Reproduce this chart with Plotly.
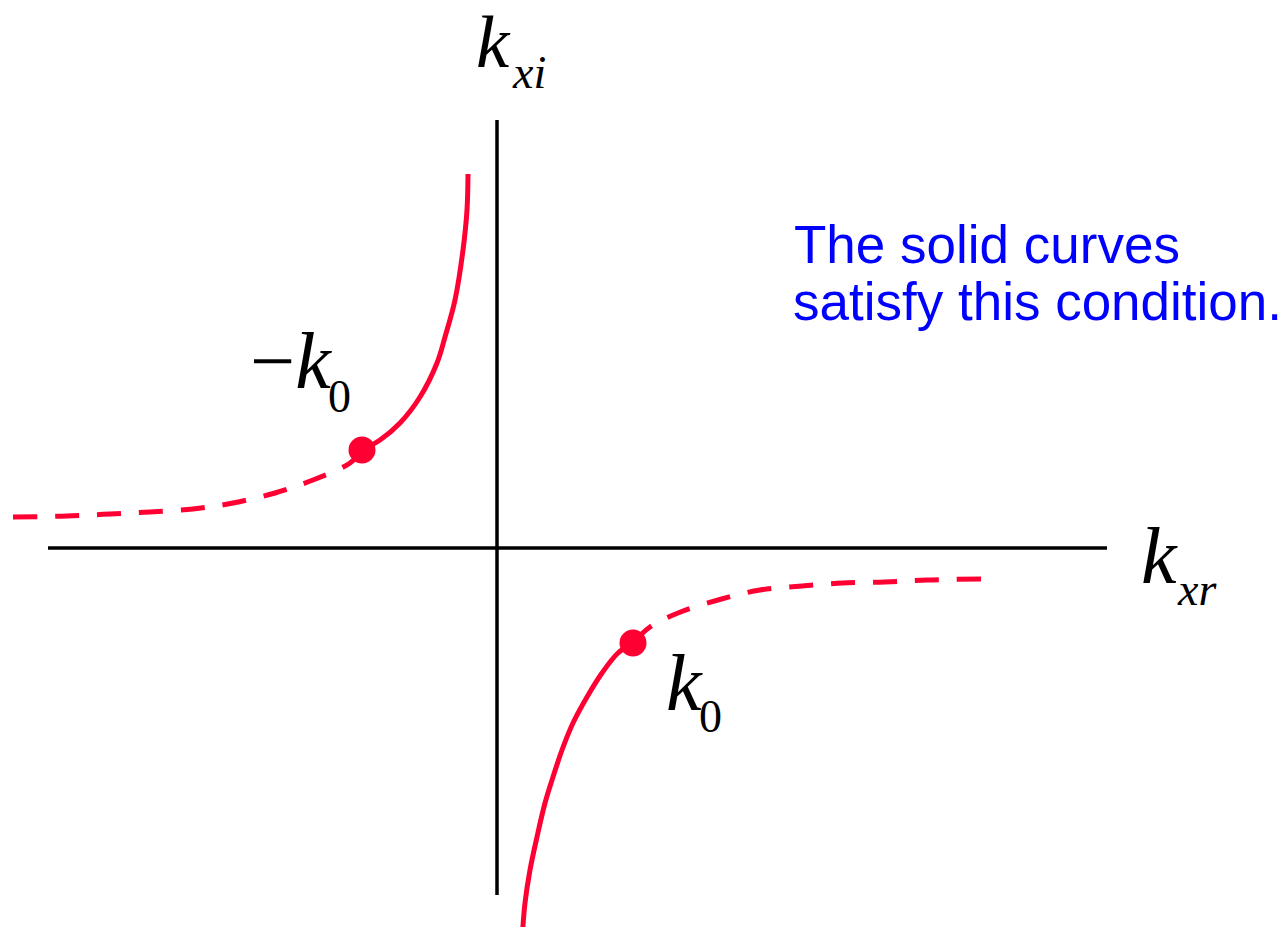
import plotly.graph_objects as go

# Complex k_x plane: real part k_xr (horizontal), imaginary part k_xi (vertical)
RED = "#FF0033"

# Upper-left branch (Im k_x > 0)
upper_solid_x = [-1.35, -1.17, -0.97, -0.77, -0.60, -0.52, -0.42, -0.34, -0.30, -0.29]
upper_solid_y = [0.98, 1.08, 1.25, 1.51, 1.85, 2.11, 2.48, 2.98, 3.38, 3.74]
upper_dash_x = [-4.84, -4.30, -3.87, -3.47, -3.04, -2.64, -2.22, -1.84, -1.47, -1.35]
upper_dash_y = [0.31, 0.32, 0.34, 0.36, 0.39, 0.45, 0.55, 0.68, 0.85, 0.98]

# Lower-right branch (Im k_x < 0)
lower_solid_x = [1.36, 1.21, 1.05, 0.90, 0.76, 0.65, 0.56, 0.48, 0.40, 0.33, 0.28, 0.255]
lower_solid_y = [-0.95, -1.05, -1.25, -1.49, -1.75, -2.02, -2.29, -2.55, -2.89, -3.22, -3.55, -3.85]
lower_dash_x = [4.84, 4.30, 3.88, 3.46, 3.05, 2.63, 2.21, 1.81, 1.53, 1.36]
lower_dash_y = [-0.31, -0.32, -0.34, -0.35, -0.38, -0.42, -0.52, -0.65, -0.79, -0.95]

# Branch points -k0 and k0
point_x = [-1.35, 1.36]
point_y = [0.98, -0.95]

# Axis extents
x_axis_span = [-4.49, 6.10]
y_axis_span = [-3.47, 4.28]

fig = go.Figure()

line_solid = dict(color=RED, width=5, shape="spline")
line_dash = dict(color=RED, width=5, shape="spline", dash="24px,18px")

fig.add_trace(go.Scatter(x=upper_dash_x, y=upper_dash_y, mode="lines", line=line_dash))
fig.add_trace(go.Scatter(x=upper_solid_x, y=upper_solid_y, mode="lines", line=line_solid))
fig.add_trace(go.Scatter(x=lower_dash_x, y=lower_dash_y, mode="lines", line=line_dash))
fig.add_trace(go.Scatter(x=lower_solid_x, y=lower_solid_y, mode="lines", line=line_solid))
fig.add_trace(go.Scatter(x=point_x, y=point_y, mode="markers",
                         marker=dict(color=RED, size=27, line=dict(width=0))))

# Coordinate axes
fig.add_shape(type="line", x0=x_axis_span[0], x1=x_axis_span[1], y0=0, y1=0,
              line=dict(color="black", width=3.5), layer="below")
fig.add_shape(type="line", x0=0, x1=0, y0=y_axis_span[0], y1=y_axis_span[1],
              line=dict(color="black", width=3.5), layer="below")

SERIF = "Liberation Serif"
SANS = "Liberation Sans"


def label(x, y, text, size, family=SERIF, color="black", pad=1):
    fig.add_annotation(x=x, y=y, xref="x", yref="y", text=text, showarrow=False,
                       xanchor="left", yanchor="bottom",
                       borderpad=pad, borderwidth=pad,
                       font=dict(family=family, size=size, color=color))


# k_xi (tight box so it stays inside the top edge)
label(-0.21, 4.65, "<i>k</i>", 75, pad=0)
label(0.13, 4.48, "<i>xi</i>", 46)
# k_xr
label(6.42, -0.54, "<i>k</i>", 80)
label(6.78, -0.69, "<i>xr</i>", 46)
# -k0
label(-2.49, 1.41, "\u2212<i>k</i>", 80)
label(-1.71, 1.24, "0", 46)
# k0
label(1.67, -1.81, "<i>k</i>", 80)
label(2.00, -1.96, "0", 46)

# Note
label(2.95, 2.72, "The solid curves", 53, family=SANS, color="#0000FF")
label(2.94, 2.15, "satisfy this condition.", 53, family=SANS, color="#0000FF")

fig.update_layout(
    width=1288, height=927,
    margin=dict(l=0, r=0, t=0, b=0),
    paper_bgcolor="white", plot_bgcolor="white",
    showlegend=False,
    xaxis=dict(range=[-4.97, 7.91], visible=False, fixedrange=True),
    yaxis=dict(range=[-3.79, 5.48], visible=False, fixedrange=True),
)

fig.write_html("out.html")
